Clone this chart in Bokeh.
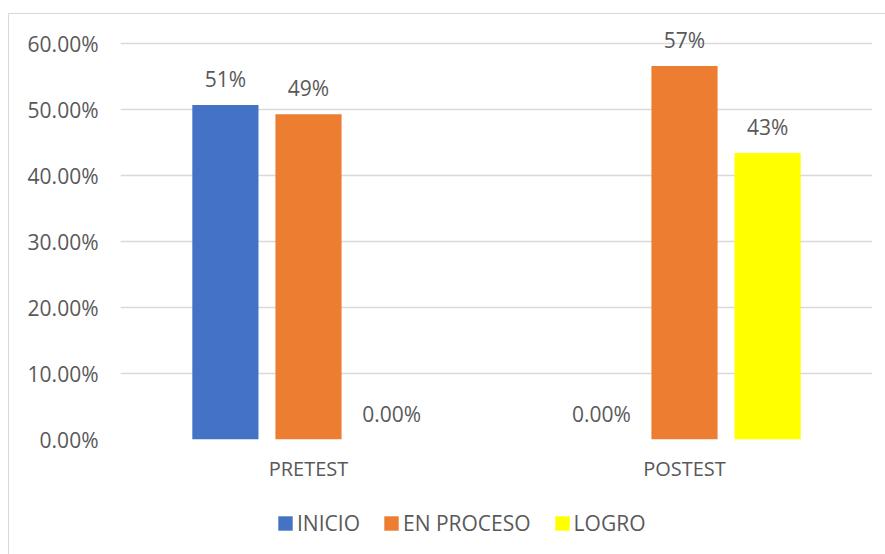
from bokeh.plotting import figure
from bokeh.models import (ColumnDataSource, FactorRange, Range1d, NumeralTickFormatter,
                          Legend, LegendItem, FixedTicker)
from bokeh.layouts import column
from bokeh.transform import dodge
from bokeh.core.properties import value
from bokeh.embed import file_html
from bokeh.resources import INLINE

categories = ["PRETEST", "POSTEST"]
series_names = ["INICIO", "EN PROCESO", "LOGRO"]
inicio = [0.507, 0.0]
en_proceso = [0.493, 0.566]
logro = [0.0, 0.434]
y_ticks = [0.0, 0.1, 0.2, 0.3, 0.4, 0.5, 0.6]

colors = ["#4472C4", "#ED7D31", "#FFFF00"]
offsets = [-0.221, 0.0, 0.221]
FONT = "Open Sans"
TXT = "#595959"
BORDER = "1px solid #D9D9D9"


def fmt(v):
    return f"{round(v * 100)}%" if v else "0.00%"


data = {"cat": categories}
for name, vals in zip(series_names, [inicio, en_proceso, logro]):
    data[name] = vals
    data[name + "_lbl"] = [fmt(v) for v in vals]
source = ColumnDataSource(data)

# main chart
p = figure(x_range=FactorRange(factors=categories, range_padding=0),
           y_range=Range1d(0, 0.644),
           width=877, height=482, output_backend="svg", toolbar_location=None,
           min_border_left=111, min_border_right=14, min_border_top=0, min_border_bottom=57)
p.margin = (13, 0, 0, 8)
p.styles = {"border-top": BORDER, "border-left": BORDER, "box-sizing": "border-box"}
p.outline_line_color = None
p.background_fill_color = "white"
p.border_fill_color = "white"

for name, off, col in zip(series_names, offsets, colors):
    p.vbar(x=dodge("cat", off, range=p.x_range), top=name, width=0.176,
           source=source, fill_color=col, line_color=None)
    p.text(x=dodge("cat", off, range=p.x_range), y=name, text=name + "_lbl", source=source,
           text_align="center", text_baseline="bottom", y_offset=-12,
           text_font=value(FONT), text_font_size="21px", text_color=TXT)

p.yaxis.ticker = FixedTicker(ticks=y_ticks)
p.yaxis.formatter = NumeralTickFormatter(format="0.00%")
for ax in [p.xaxis[0], p.yaxis[0]]:
    ax.axis_line_color = None
    ax.major_tick_line_color = None
    ax.minor_tick_line_color = None
    ax.major_tick_out = 0
    ax.major_tick_in = 0
    ax.minor_tick_out = 0
    ax.major_label_text_font = FONT
    ax.major_label_text_font_size = "21px"
    ax.major_label_text_color = TXT
p.xaxis.major_label_text_font_size = "20px"
p.yaxis.major_label_standoff = 22
p.xaxis.major_label_standoff = 15

p.xgrid.grid_line_color = None
p.ygrid.grid_line_color = "#D9D9D9"
p.ygrid.grid_line_width = 1.5

# legend strip (same series drawn through a shared x scale; the bars lie above its view)
lf = figure(x_range=p.x_range, y_range=Range1d(-1, 0), width=877, height=59,
            output_backend="svg", toolbar_location=None,
            x_axis_location=None, y_axis_location=None,
            min_border_left=0, min_border_right=0, min_border_top=0, min_border_bottom=0)
lf.margin = (0, 0, 0, 8)
lf.styles = {"border-left": BORDER, "box-sizing": "border-box"}
lf.outline_line_color = None
lf.grid.grid_line_color = None
lf.background_fill_color = "white"
lf.border_fill_color = "white"

items = []
for name, off, col in zip(series_names, offsets, colors):
    r = lf.vbar(x=dodge("cat", off, range=lf.x_range), top=name, width=0.176,
                source=source, fill_color=col, line_color=None)
    items.append(LegendItem(label=name, renderers=[r]))

legend = Legend(items=items, orientation="horizontal", location=(156, 17),
                glyph_width=18, glyph_height=18, label_standoff=3, spacing=22,
                padding=0, margin=0, border_line_color=None, background_fill_alpha=0,
                label_text_font=FONT, label_text_font_size="21px", label_text_color=TXT)
lf.add_layout(legend, "center")

layout = column(p, lf, spacing=0)
open("out.html", "w").write(file_html(layout, INLINE))
